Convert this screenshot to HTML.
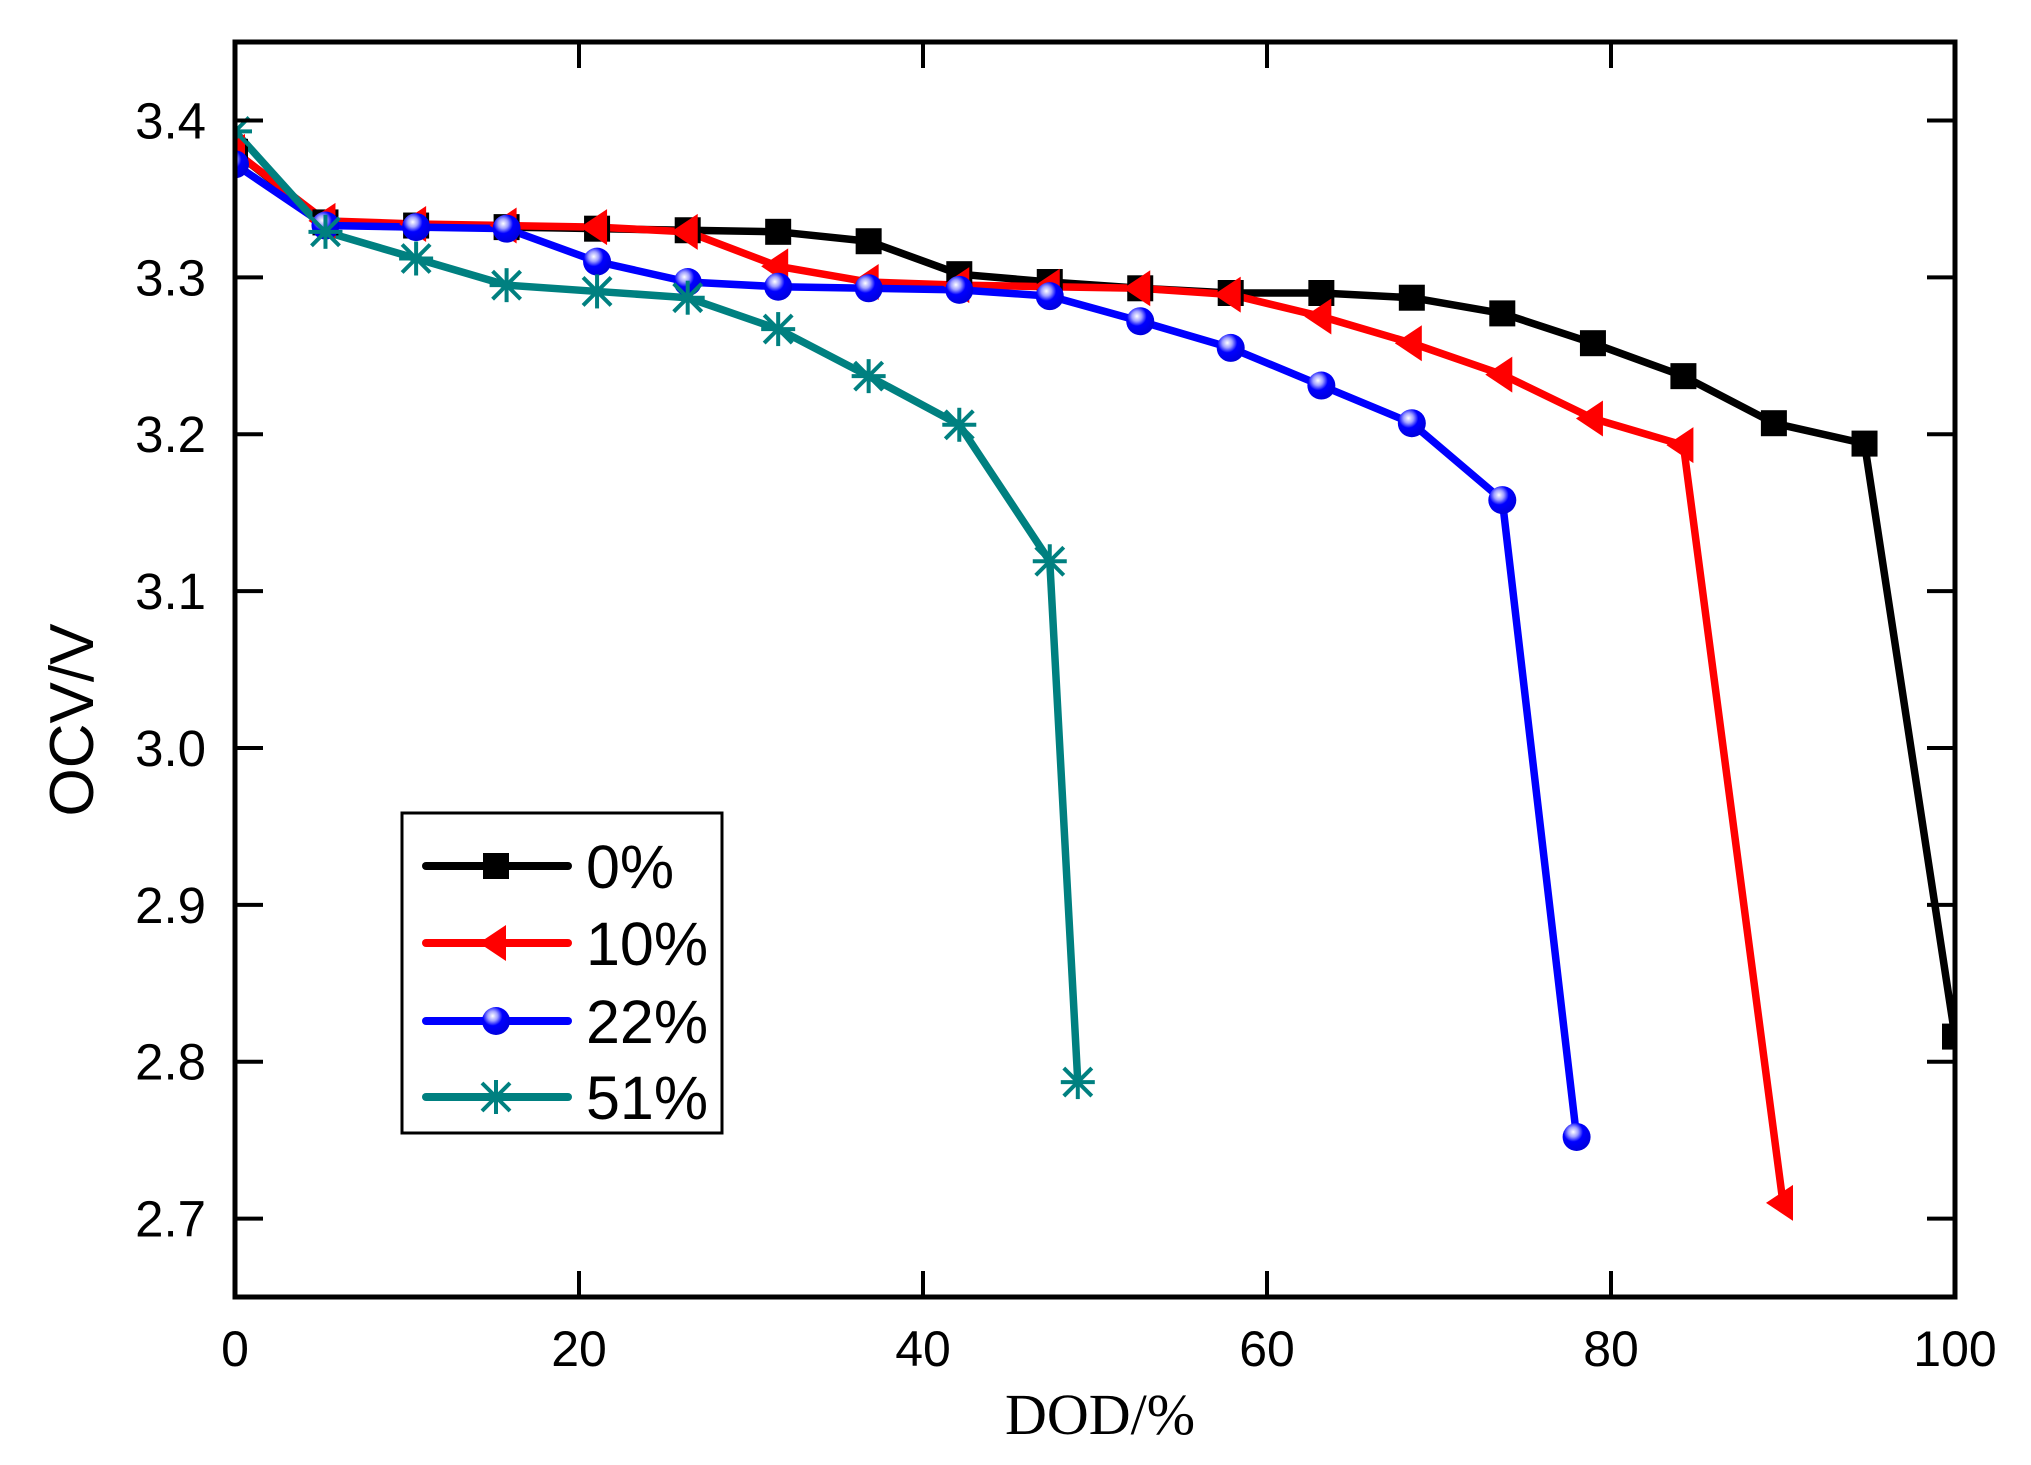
<!DOCTYPE html>
<html><head><meta charset="utf-8"><style>
html,body{margin:0;padding:0;background:#fff;}
svg{display:block;}
text{font-family:"Liberation Sans",sans-serif;}
</style></head><body>
<svg id="chart" width="2031" height="1465" viewBox="0 0 2031 1465" xmlns="http://www.w3.org/2000/svg">
<defs>
<radialGradient id="ballGrad" cx="0.38" cy="0.32" r="0.7">
<stop offset="0" stop-color="#ffffff"/><stop offset="0.25" stop-color="#a0a0ff"/><stop offset="0.5" stop-color="#0000ff"/><stop offset="1" stop-color="#0000dd"/>
</radialGradient>
</defs>
<g id="plot"></g>
<g id="axes"></g>
<text x="1100" y="1434" text-anchor="middle" font-size="58" style="font-family:'Liberation Serif',serif">DOD/%</text>
<text transform="translate(93,720) rotate(-90)" text-anchor="middle" font-size="62">OCV/V</text>
<g id="legend"></g>
</svg>
<script>
const xTicks = [0, 20, 40, 60, 80, 100];
const yTicks = [2.7, 2.8, 2.9, 3.0, 3.1, 3.2, 3.3, 3.4];
const yTickLabels = ["2.7", "2.8", "2.9", "3.0", "3.1", "3.2", "3.3", "3.4"];
const seriesNames = ["0%", "10%", "22%", "51%"];
const dod0 = [0, 5.26, 10.53, 15.79, 21.05, 26.32, 31.58, 36.84, 42.11, 47.37, 52.63, 57.89, 63.16, 68.42, 73.68, 78.95, 84.21, 89.47, 94.74, 100];
const ocv0 = [3.38, 3.335, 3.333, 3.332, 3.331, 3.330, 3.329, 3.323, 3.302, 3.297, 3.293, 3.290, 3.290, 3.287, 3.277, 3.258, 3.237, 3.207, 3.194, 2.816];
const dod10 = [0, 5.26, 10.53, 15.79, 21.05, 26.32, 31.58, 36.84, 42.11, 47.37, 52.63, 57.89, 63.16, 68.42, 73.68, 78.95, 84.21, 90.0];
const ocv10 = [3.38, 3.336, 3.334, 3.333, 3.332, 3.329, 3.307, 3.297, 3.295, 3.294, 3.293, 3.289, 3.275, 3.258, 3.238, 3.210, 3.193, 2.710];
const dod22 = [0, 5.26, 10.53, 15.79, 21.05, 26.32, 31.58, 36.84, 42.11, 47.37, 52.63, 57.89, 63.16, 68.42, 73.68, 78.0];
const ocv22 = [3.372, 3.333, 3.332, 3.331, 3.310, 3.297, 3.294, 3.293, 3.292, 3.288, 3.272, 3.255, 3.231, 3.207, 3.158, 2.752];
const dod51 = [0, 5.26, 10.53, 15.79, 21.05, 26.32, 31.58, 36.84, 42.11, 47.37, 49.0];
const ocv51 = [3.393, 3.329, 3.312, 3.295, 3.291, 3.287, 3.267, 3.237, 3.206, 3.119, 2.787];

const NS = "http://www.w3.org/2000/svg";
const L = 235, R = 1955, T = 42, B = 1297;
const X0 = 0, X1 = 100, Y0 = 2.65, Y1 = 3.45;
function sx(v){ return L + (v - X0) / (X1 - X0) * (R - L); }
function sy(v){ return B - (v - Y0) / (Y1 - Y0) * (B - T); }
function mk(tag, attrs, parent){ const e = document.createElementNS(NS, tag); for (const k in attrs) e.setAttribute(k, attrs[k]); parent.appendChild(e); return e; }

const plot = document.getElementById('plot');
const axes = document.getElementById('axes');
const legend = document.getElementById('legend');

function marker(kind, x, y, parent){
  let m;
  if (kind === 0) {
    m = mk('rect', {x: x-13, y: y-13, width: 26, height: 26, fill: '#000'}, parent);
  } else if (kind === 1) {
    m = mk('polygon', {points: `${x-17},${y} ${x+10},${y-18} ${x+10},${y+18}`, fill: '#ff0000'}, parent);
  } else if (kind === 2) {
    m = mk('circle', {cx: x, cy: y, r: 14, fill: 'url(#ballGrad)'}, parent);
  } else {
    m = mk('g', {stroke: '#008080', 'stroke-width': 4}, parent);
    mk('line', {x1: x, y1: y-17, x2: x, y2: y+17}, m);
    mk('line', {x1: x-17, y1: y, x2: x+17, y2: y}, m);
    mk('line', {x1: x-14, y1: y-14, x2: x+14, y2: y+14}, m);
    mk('line', {x1: x-14, y1: y+14, x2: x+14, y2: y-14}, m);
  }
  return m;
}

const colors = ['#000000', '#ff0000', '#0000ff', '#008080'];
const allX = [dod0, dod10, dod22, dod51];
const allY = [ocv0, ocv10, ocv22, ocv51];
const clip = mk('clipPath', {id: 'pclip'}, document.querySelector('defs'));
mk('rect', {x: L, y: T, width: R - L, height: B - T}, clip);
const pg = mk('g', {'clip-path': 'url(#pclip)'}, plot);

for (let s = 0; s < 4; s++) {
  const pts = allX[s].map((d, i) => sx(d) + ',' + sy(allY[s][i])).join(' ');
  const line = mk('polyline', {points: pts, fill: 'none', stroke: colors[s], 'stroke-width': 7.5, 'stroke-linejoin': 'round'}, pg);
  
  
}
for (let s = 0; s < 4; s++) {
  for (let i = 0; i < allX[s].length; i++) {
    const m = marker(s, sx(allX[s][i]), sy(allY[s][i]), pg);
    
    
  }
}

const frame = mk('rect', {x: L, y: T, width: R - L, height: B - T, fill: 'none', stroke: '#000', 'stroke-width': 5}, axes);



xTicks.forEach((v) => {
  const x = sx(v);
  const t = mk('line', {x1: x, y1: B, x2: x, y2: B - 26, stroke: '#000', 'stroke-width': 4}, axes);
  
  
  const t2 = mk('line', {x1: x, y1: T, x2: x, y2: T + 26, stroke: '#000', 'stroke-width': 4}, axes);
  
  
  const lb = mk('text', {x: x, y: 1366, 'text-anchor': 'middle', 'font-size': 50}, axes);
  lb.textContent = String(v);
  
  
});
yTicks.forEach((v, i) => {
  const y = sy(v);
  const t = mk('line', {x1: L, y1: y, x2: L + 28, y2: y, stroke: '#000', 'stroke-width': 4}, axes);
  
  
  const t2 = mk('line', {x1: R, y1: y, x2: R - 28, y2: y, stroke: '#000', 'stroke-width': 4}, axes);
  
  
  const lb = mk('text', {x: 206, y: y + 18, 'text-anchor': 'end', 'font-size': 51}, axes);
  lb.textContent = yTickLabels[i];
  
  
});

const lbox = mk('rect', {x: 402, y: 813, width: 320, height: 320, fill: '#fff', stroke: '#000', 'stroke-width': 3}, legend);


const ly = [866, 943, 1021, 1097];
for (let s = 0; s < 4; s++) {
  const g = mk('g', {}, legend);
  
  
  mk('line', {x1: 426, y1: ly[s], x2: 568, y2: ly[s], stroke: colors[s], 'stroke-width': 8, 'stroke-linecap': 'round'}, g);
  marker(s, 496, ly[s], g);
  const tx = mk('text', {x: 586, y: ly[s] + 22, 'font-size': 61}, g);
  tx.textContent = seriesNames[s];
}
</script>
</body></html>
